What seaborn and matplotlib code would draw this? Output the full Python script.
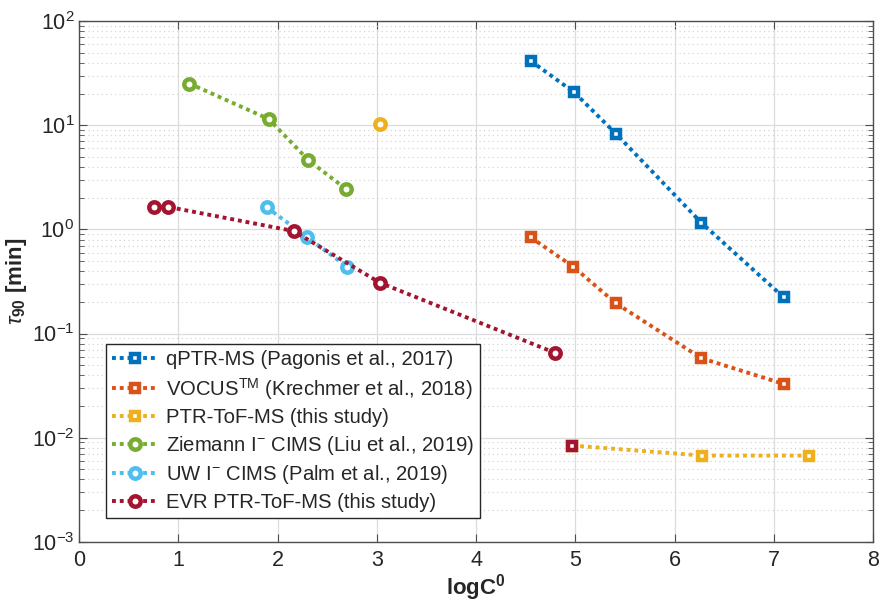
import numpy as np
import pandas as pd
import seaborn as sns
import matplotlib.pyplot as plt
from matplotlib.ticker import LogLocator, NullFormatter, MultipleLocator

# logC0 and tau90 [min] per instrument
qptr_x = [4.55, 4.99, 5.41, 6.27, 7.10]
qptr_y = [41.6, 20.7, 8.3, 1.16, 0.223]
vocus_x = [4.55, 4.98, 5.41, 6.27, 7.10]
vocus_y = [0.84, 0.438, 0.195, 0.058, 0.0328]
ptr_x = [4.97, 6.28, 7.36]
ptr_y = [0.0084, 0.00673, 0.00673]
ptr_extra_x = [3.03]          # lone yellow circle
ptr_extra_y = [10.3]
ziemann_x = [1.11, 1.91, 2.31, 2.69]
ziemann_y = [25.2, 11.5, 4.63, 2.44]
uw_x = [1.89, 2.30, 2.70]
uw_y = [1.63, 0.84, 0.438]
evr_x = [0.75, 0.89, 2.16, 3.03, 4.80]
evr_y = [1.65, 1.65, 0.966, 0.308, 0.065]
evr_extra_x = [4.97]          # red square sitting on the PTR-ToF-MS line
evr_extra_y = [0.0084]

labels = ["qPTR-MS (Pagonis et al., 2017)",
          r"VOCUS$^{\mathrm{TM}}$ (Krechmer et al., 2018)",
          "PTR-ToF-MS (this study)",
          r"Ziemann I$^{\mathrm{-}}$ CIMS (Liu et al., 2019)",
          r"UW I$^{\mathrm{-}}$ CIMS (Palm et al., 2019)",
          "EVR PTR-ToF-MS (this study)"]
colors = ["#0072BD", "#D95319", "#EDB120", "#77AC30", "#4DBEEE", "#A2142F"]

sns.set_style("ticks")
plt.rcParams['font.family'] = ['Liberation Sans', 'DejaVu Sans']
plt.rcParams['mathtext.fontset'] = 'custom'
plt.rcParams['mathtext.rm'] = 'Liberation Sans'
plt.rcParams['mathtext.it'] = 'Liberation Sans:italic'
plt.rcParams['mathtext.bf'] = 'Liberation Sans:bold'

fig, ax = plt.subplots(figsize=(8.8, 6.06), dpi=100)
fig.subplots_adjust(left=0.09, right=0.992, bottom=0.106, top=0.965)

line_kw = dict(linestyle=(0, (1, 1)), linewidth=2.8, dash_capstyle='butt',
               markerfacecolor='white', estimator=None, sort=False)
sq = dict(marker='s', markersize=5.5, markeredgewidth=3.2)
ci = dict(marker='o', markersize=7.5, markeredgewidth=3.2)

series = [(qptr_x, qptr_y, sq), (vocus_x, vocus_y, sq), (ptr_x, ptr_y, sq),
          (ziemann_x, ziemann_y, ci), (uw_x, uw_y, ci), (evr_x, evr_y, ci)]
for (xs, ys, mk), lab, col in zip(series, labels, colors):
    df = pd.DataFrame({"logC0": xs, "tau90": ys})
    sns.lineplot(data=df, x="logC0", y="tau90", ax=ax, color=col, label=lab,
                 markeredgecolor=col, **line_kw, **mk)

# loose markers
sns.lineplot(x=ptr_extra_x, y=ptr_extra_y, ax=ax, color=colors[2], markeredgecolor=colors[2],
             **line_kw, **ci, legend=False)
sns.lineplot(x=evr_extra_x, y=evr_extra_y, ax=ax, color=colors[5], markeredgecolor=colors[5],
             linestyle='none', estimator=None, marker='s', markersize=5.5,
             markeredgewidth=3.2, markerfacecolor='white', legend=False)

ax.set_yscale('log')
ax.set_xlim(0, 8)
ax.set_ylim(1e-3, 1e2)
ax.xaxis.set_major_locator(MultipleLocator(1))
ax.yaxis.set_major_locator(LogLocator(base=10, numticks=10))
ax.yaxis.set_minor_locator(LogLocator(base=10, subs=np.arange(2, 10), numticks=20))
ax.yaxis.set_minor_formatter(NullFormatter())

ax.grid(True, which='major', color='#dcdcdc', linewidth=0.9, linestyle='-')
ax.grid(True, which='minor', axis='y', color='#cfcfcf', linewidth=0.8, linestyle=(0, (1, 3)))
ax.set_axisbelow(True)

for s in ax.spines.values():
    s.set_color('#4d4d4d')
    s.set_linewidth(1.0)
ax.tick_params(which='both', direction='in', top=True, right=True, colors='#4d4d4d',
               labelcolor='#262626', labelsize=15.5)
ax.tick_params(which='major', length=6)
ax.tick_params(which='minor', length=3.5)
ax.tick_params(axis='x', pad=6)

ax.set_xlabel(r"logC$^{\mathbf{0}}$", fontsize=16, fontweight='bold', color='#262626', labelpad=1)
ax.set_ylabel(r"$\tau_{\mathbf{90}}$ [min]", fontsize=16, fontweight='bold', color='#262626', labelpad=2)

leg = ax.legend(loc='lower left', bbox_to_anchor=(0.034, 0.046), borderaxespad=0,
                fontsize=14.6, handlelength=2.2, labelspacing=0.32, handletextpad=0.45,
                fancybox=False, framealpha=1, edgecolor='#262626', borderpad=0.3)
leg.get_frame().set_linewidth(1.0)

fig.savefig("out.png", dpi=100)
